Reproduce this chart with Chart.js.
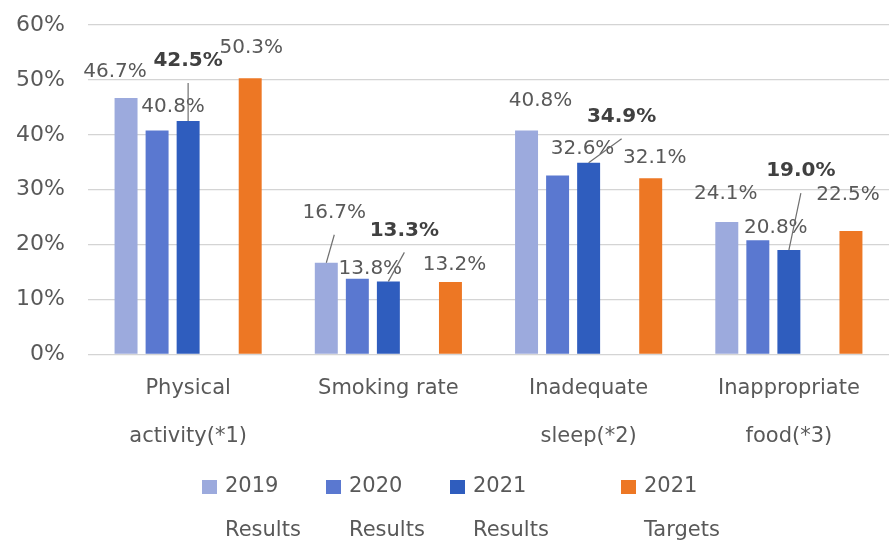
<!DOCTYPE html>
<html>
<head>
<meta charset="utf-8">
<script src="https://cdn.jsdelivr.net/npm/chart.js@4.4.1/dist/chart.umd.min.js"></script>
<style>
  html, body { margin: 0; padding: 0; background: #fff; }
  #wrap { width: 889px; height: 546px; }
</style>
</head>
<body>
<div id="wrap"><canvas id="barChart" width="889" height="546"></canvas></div>
<script>
// chart values
var categories = [['Physical', 'activity(*1)'], 'Smoking rate', ['Inadequate', 'sleep(*2)'], ['Inappropriate', 'food(*3)']];
var seriesNames = [['2019', 'Results'], ['2020', 'Results'], ['2021', 'Results'], ['2021', 'Targets']];
var results2019 = [46.7, 16.7, 40.8, 24.1];
var results2020 = [40.8, 13.8, 32.6, 20.8];
var results2021 = [42.5, 13.3, 34.9, 19.0];
var targets2021 = [50.3, 13.2, 32.1, 22.5];
var yTicks = [0, 10, 20, 30, 40, 50, 60];

// where each value label sits, relative to the top of its bar
var offsets2019 = [[-11, -26], [8, -50], [14, -30], [-1, -28]];
var offsets2020 = [[16, -24], [13, -10], [25, -27], [18, -12]];
var offsets2021 = [[0, -60], [16, -51], [33, -46], [12, -79]];
var offsetsTarget = [[1, -30], [4, -17], [4, -20], [-3, -36]];
var leaders2019 = [false, true, false, false];
var leaders2021 = [true, true, true, true];

var FONT = '"DejaVu Sans", Verdana, sans-serif';
var TEXT = '#595959';

var valueLabels = {
    id: 'valueLabels',
    afterDatasetsDraw: function(chart) {
        var ctx = chart.ctx;
        ctx.save();
        chart.data.datasets.forEach(function(ds, i) {
            if (!ds.offsets) return;
            var meta = chart.getDatasetMeta(i);
            meta.data.forEach(function(bar, j) {
                var lx = bar.x + ds.offsets[j][0];
                var ly = bar.y + ds.offsets[j][1];
                if (ds.leaders && ds.leaders[j]) {
                    ctx.strokeStyle = '#6f6f6f';
                    ctx.lineWidth = 1.2;
                    ctx.beginPath();
                    ctx.moveTo(bar.x, bar.y);
                    ctx.lineTo(lx, ly + 22);
                    ctx.stroke();
                }
                ctx.font = (ds.boldLabels ? 'bold ' : '') + '20px ' + FONT;
                ctx.fillStyle = ds.boldLabels ? '#404040' : TEXT;
                ctx.textAlign = 'center';
                ctx.textBaseline = 'middle';
                ctx.fillText(ds.data[j].toFixed(1) + '%', lx, ly);
            });
        });
        ctx.restore();
    }
};

var twoLineLegend = {
    id: 'twoLineLegend',
    afterDraw: function(chart, args, opts) {
        var ctx = chart.ctx;
        var x = opts.left;
        ctx.save();
        ctx.font = '21px ' + FONT;
        ctx.textAlign = 'left';
        ctx.textBaseline = 'middle';
        chart.data.datasets.forEach(function(ds) {
            if (!ds.label) { x += opts.spacer; return; }
            ctx.fillStyle = ds.backgroundColor;
            ctx.fillRect(x, opts.top - 6, 15, 14);
            ctx.fillStyle = TEXT;
            ds.label.forEach(function(line, k) {
                ctx.fillText(line, x + 23, opts.top + 1 + k * opts.lineGap);
            });
            x += opts.itemWidth;
        });
        ctx.restore();
    }
};

window.onload = function() {
    var ctx = document.getElementById('barChart').getContext('2d');
    var barChart = new Chart(ctx, {
        type: 'bar',
        data: {
            labels: categories,
            datasets: [
                { label: seriesNames[0], data: results2019, backgroundColor: '#9caadd', offsets: offsets2019, leaders: leaders2019 },
                { label: seriesNames[1], data: results2020, backgroundColor: '#5a78d0', offsets: offsets2020 },
                { label: seriesNames[2], data: results2021, backgroundColor: '#2f5dbe', offsets: offsets2021, leaders: leaders2021, boldLabels: true },
                { label: '', data: [null, null, null, null], backgroundColor: 'rgba(0,0,0,0)' },
                { label: seriesNames[3], data: targets2021, backgroundColor: '#ed7724', offsets: offsetsTarget }
            ]
        },
        options: {
            responsive: false,
            animation: false,
            categoryPercentage: 0.775,
            barPercentage: 0.74,
            layout: { padding: { top: 25, right: 0, bottom: 83, left: 0 } },
            scales: {
                x: {
                    grid: { display: false },
                    border: { display: false },
                    ticks: {
                        color: TEXT,
                        padding: 2,
                        maxRotation: 0,
                        autoSkip: false,
                        font: { family: FONT, size: 21, lineHeight: 2.3 }
                    }
                },
                y: {
                    min: 0,
                    max: 60,
                    afterBuildTicks: function(scale) {
                        scale.ticks = yTicks.map(function(v) { return { value: v }; });
                    },
                    afterFit: function(scale) {
                        scale.width = 88;
                        scale.paddingTop = 0;
                        scale.paddingBottom = 0;
                    },
                    grid: { color: '#d4d4d4', lineWidth: 1.3, drawTicks: false },
                    border: { display: false },
                    ticks: {
                        color: TEXT,
                        padding: 23,
                        font: { family: FONT, size: 22 },
                        callback: function(v) { return v + '%'; }
                    }
                }
            },
            plugins: {
                legend: { display: false },
                tooltip: { enabled: false },
                twoLineLegend: { left: 202, top: 486, lineGap: 44, itemWidth: 124, spacer: 47 }
            }
        },
        plugins: [valueLabels, twoLineLegend]
    });
};
</script>
</body>
</html>
